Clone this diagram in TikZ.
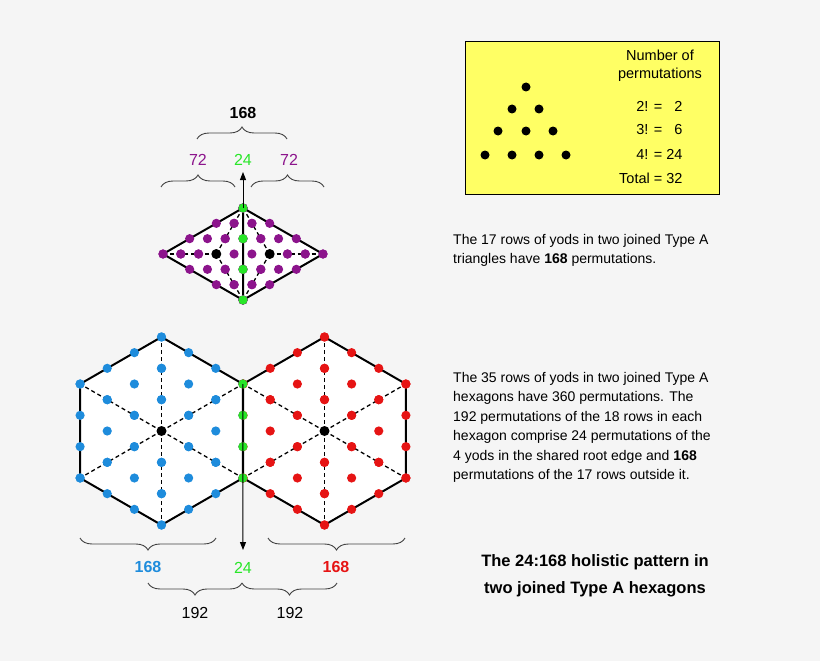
\documentclass[tikz,border=0pt]{standalone}
\usepackage{fontspec}
\setmainfont{Liberation Sans}
\usetikzlibrary{calc,decorations.pathreplacing,arrows.meta}
\definecolor{bg}{HTML}{F5F5F5}
\definecolor{pur}{RGB}{140,20,140}
\definecolor{grn}{RGB}{40,230,40}
\definecolor{blu}{RGB}{30,140,220}
\definecolor{rd}{RGB}{230,20,20}
\definecolor{yel}{RGB}{255,255,100}
\newcommand\dotr{4.6}
\newcommand\subtri[4]{%
 \fill[#4] (#2) circle(\dotr) (#3) circle(\dotr)
  ($(#2)!1/3!(#3)$) circle(\dotr) ($(#2)!2/3!(#3)$) circle(\dotr)
  ($(#1)!1/3!(#2)$) circle(\dotr) ($(#1)!2/3!(#2)$) circle(\dotr)
  ($(#1)!1/3!(#3)$) circle(\dotr) ($(#1)!2/3!(#3)$) circle(\dotr)
  ($1/3*(#1)+1/3*(#2)+1/3*(#3)$) circle(\dotr);}
\tikzset{
 outline/.style={line width=2pt,line join=round},
 radial/.style={dashed,line width=1.3pt,dash pattern=on 4pt off 3pt},
 br/.style={decorate,decoration={brace,amplitude=12pt},line width=0.9pt,draw=black!75},
 lbl/.style={font=\fontsize{16}{18}\selectfont},
 body/.style={font=\fontsize{14}{19.5}\selectfont,align=left,anchor=north west,inner sep=0pt},
}
\begin{document}
\begin{tikzpicture}[x=1pt,y=-1pt]
\fill[bg] (0,0) rectangle (820,661);
\useasboundingbox (0,0) rectangle (820,661);
% rhombus
\coordinate (T) at (243,208); \coordinate (B) at (243,300);
\coordinate (Lf) at (163,254); \coordinate (Rt) at (323,254);
\coordinate (GL) at (216.3,254); \coordinate (GR) at (269.7,254);
\fill[white] (Lf)--(T)--(Rt)--(B)--cycle;
\foreach \g/\v in {GL/Lf,GL/T,GL/B,GR/Rt,GR/T,GR/B} \draw[radial] (\g)--(\v);
\draw[outline] (Lf)--(T)--(Rt)--(B)--cycle (T)--(B);
\subtri{GL}{Lf}{T}{pur}\subtri{GL}{T}{B}{pur}\subtri{GL}{B}{Lf}{pur}
\subtri{GR}{Rt}{T}{pur}\subtri{GR}{T}{B}{pur}\subtri{GR}{B}{Rt}{pur}
\fill[black] (GL) circle(5) (GR) circle(5);
\fill[grn] (T) circle(\dotr) ($(T)!1/3!(B)$) circle(\dotr) ($(T)!2/3!(B)$) circle(\dotr) (B) circle(\dotr);
% hexagons
\foreach \c/\x/\col in {HL/161.5/blu,HR/324.5/rd}{
 \coordinate (\c) at (\x,431);
 \foreach \k in {0,...,5}{\coordinate (\c\k) at ($(\c)+(30+60*\k:94)$);}
 \fill[white] (\c0)--(\c1)--(\c2)--(\c3)--(\c4)--(\c5)--cycle;
 \foreach \k in {0,...,5}{\draw[radial] (\c)--(\c\k);}
 \draw[outline] (\c0)--(\c1)--(\c2)--(\c3)--(\c4)--(\c5)--cycle;
 \subtri{\c}{\c0}{\c1}{\col}\subtri{\c}{\c1}{\c2}{\col}\subtri{\c}{\c2}{\c3}{\col}
 \subtri{\c}{\c3}{\c4}{\col}\subtri{\c}{\c4}{\c5}{\col}\subtri{\c}{\c5}{\c0}{\col}
 \fill[black] (\c) circle(5);
}
\fill[grn] (HL0) circle(\dotr) ($(HL0)!1/3!(HL5)$) circle(\dotr) ($(HL0)!2/3!(HL5)$) circle(\dotr) (HL5) circle(\dotr);
% arrows
\coordinate (upA) at (243,172); \coordinate (dnA) at (243,550);
\draw[-{Triangle[length=8pt,width=6pt]},line width=1pt] (T)--(upA);
\draw[-{Triangle[length=8pt,width=6pt]},line width=1pt] (HL5)--(dnA);
% top braces and labels
\draw[br] (197,139)--(287,139);
\draw[br] (161,187)--(235,187);
\draw[br] (251,187)--(324,187);
\node[lbl,font=\fontsize{16}{18}\selectfont\bfseries] (n168) at (243,113) {168};
\node[lbl,text=pur] (a72) at (198,160) {72};
\node[lbl,text=grn] (a24) at (243,160) {24};
\node[lbl,text=pur] (b72) at (289,160) {72};
% bottom braces and labels
\draw[br] (216,538)--(80,538);
\draw[br] (405,538)--(268,538);
\draw[br] (242,583)--(148,583);
\draw[br] (337,583)--(242,583);
\node[lbl,text=blu,font=\fontsize{16}{18}\selectfont\bfseries] (c168) at (148,567) {168};
\node[lbl,text=grn] (c24) at (243,568) {24};
\node[lbl,text=rd,font=\fontsize{16}{18}\selectfont\bfseries] (d168) at (336,567) {168};
\node[lbl] (e192) at (195,613) {192};
\node[lbl] (f192) at (290,613) {192};
% yellow box
\draw[fill=yel,line width=0.8pt] (465,41) rectangle (719,194);
\foreach \p in {(526,87),(512,109),(539,109),(498,131),(526,131),(553,131),(485,155),(512,155),(539,155),(566,155)}
 \fill[black] \p circle(4.5);
\node[font=\fontsize{14.5}{18}\selectfont,align=center] (hd) at (660,66) {Number of\\permutations};
\node[font=\fontsize{14.5}{18}\selectfont,anchor=east] (r2) at (686,106) {2! =\ \ \ 2};
\node[font=\fontsize{14.5}{18}\selectfont,anchor=east] (r3) at (686,130) {3! =\ \ \ 6};
\node[font=\fontsize{14.5}{18}\selectfont,anchor=east] (r4) at (686,154) {4! = 24};
\node[font=\fontsize{14.5}{18}\selectfont,anchor=east] (r5) at (686,178) {Total = 32};
% texts
\node[body] (t1) at (453,234) {The 17 rows of yods in two joined Type A\\triangles have \textbf{168} permutations.};
\node[body] (t2) at (453,372) {The 35 rows of yods in two joined Type A\\hexagons have 360 permutations. The\\192 permutations of the 18 rows in each\\hexagon comprise 24 permutations of the\\4 yods in the shared root edge and \textbf{168}\\permutations of the 17 rows outside it.};
\node[font=\fontsize{16.5}{27}\selectfont\bfseries,align=center] (t3) at (595,576) {The 24:168 holistic pattern in\\two joined Type A hexagons};
\end{tikzpicture}
\end{document}
